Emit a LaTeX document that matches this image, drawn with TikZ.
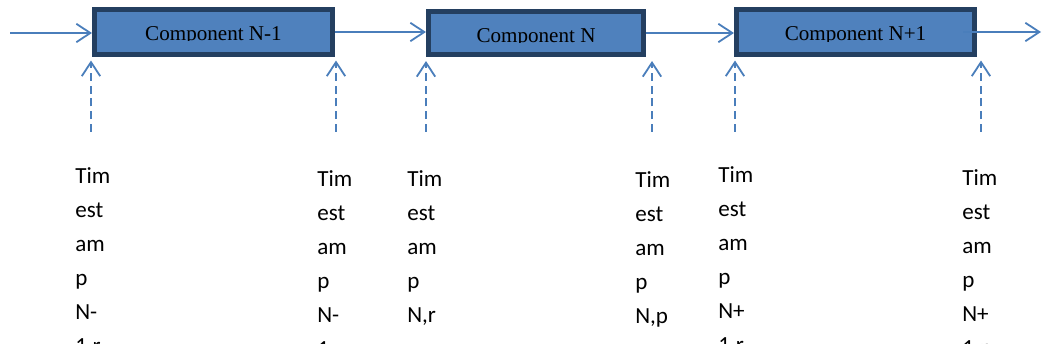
\documentclass[tikz,border=0pt]{standalone}
\usepackage{fontspec}
\setmainfont{Liberation Serif}
\newfontfamily\labelfont{Carlito}
\usetikzlibrary{arrows.meta}
\definecolor{flowblue}{HTML}{4A7EBB}
\definecolor{boxfill}{HTML}{4F81BD}
\definecolor{boxedge}{HTML}{243F60}

\begin{document}
\begin{tikzpicture}[x=0.025cm,y=-0.025cm,
compblock/.style={draw=boxedge,fill=boxfill,rectangle,line width=0.125cm,minimum width=5.95cm,minimum height=1.1cm,inner sep=0pt},
comptext/.style={anchor=base,inner sep=0pt,text=black,font=\fontsize{15}{18}\selectfont},
flow/.style={draw=flowblue,line width=0.045cm,-{Straight Barb[length=0.35cm,width=0.46cm]}},
stamp/.style={flow,dash pattern=on 0.2cm off 0.12cm,shorten >=0.1cm},
stamplabel/.style={anchor=north west,align=left,inner sep=0pt,font=\labelfont\fontsize{16.4}{24.2}\selectfont}]

\useasboundingbox (0,0) rectangle (1043,354);

\draw (213.5,32) node[compblock] (C1) {};
\draw (536,33) node[compblock,minimum width=5.375cm,minimum height=1.075cm] (C2) {};
\draw (855.5,32) node[compblock] (C3) {};

\begin{scope}
\clip (92,7) rectangle (335,41) (426,9) rectangle (646,43) (734,7) rectangle (977,41.5);
\node[comptext] (T1) at (213.5,40.5) {Component N-1};
\node[comptext] (T2) at (536,42.5) {Component N};
\node[comptext] (T3) at (855.5,41) {Component N+1};
\end{scope}

\coordinate (in) at (10,33);
\coordinate (out) at (1041,32);
\draw[flow] (in) -- (in -| C1.west);
\draw[flow] (C1.east) -- (C1.east -| C2.west);
\draw[flow] (C2.east) -- (C2.east -| C3.west);
\draw[flow] ([xshift=-0.35cm]C3.east) -- (out);

\coordinate (s1) at (91,132);
\coordinate (s2) at (336,132);
\coordinate (s3) at (426,132);
\coordinate (s4) at (652,132);
\coordinate (s5) at (735,132);
\coordinate (s6) at (981,132);
\draw[stamp] (s1) -- (s1 |- C1.south);
\draw[stamp] (s2) -- (s2 |- C1.south);
\draw[stamp] (s3) -- (s3 |- C2.south);
\draw[stamp] (s4) -- (s4 |- C2.south);
\draw[stamp] (s5) -- (s5 |- C3.south);
\draw[stamp] (s6) -- (s6 |- C3.south);

\begin{scope}
\clip (0,0) rectangle (1043,343);
\node[stamplabel] (L1) at (75,167) {Tim\\est\\am\\p\\N-\\1,r};
\node[stamplabel] (L2) at (317,170) {Tim\\est\\am\\p\\N-\\1,p};
\node[stamplabel] (L3) at (407,170) {Tim\\est\\am\\p\\N,r};
\node[stamplabel] (L4) at (635,171) {Tim\\est\\am\\p\\N,p};
\node[stamplabel] (L5) at (718,166) {Tim\\est\\am\\p\\N+\\1,r};
\node[stamplabel] (L6) at (962,169) {Tim\\est\\am\\p\\N+\\1,p};
\end{scope}

\end{tikzpicture}
\end{document}
